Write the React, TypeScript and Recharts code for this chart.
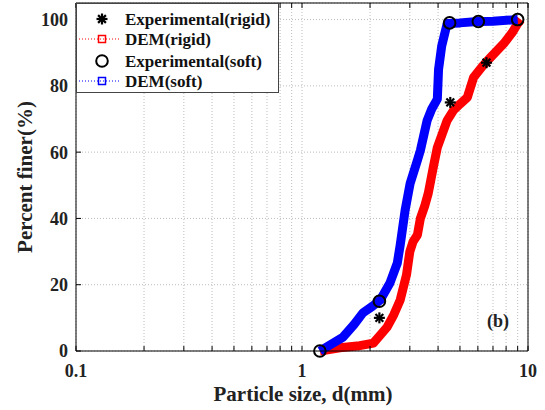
import {
  ComposedChart,
  Line,
  Scatter,
  XAxis,
  YAxis,
  CartesianGrid,
  Legend,
} from 'recharts'

// particle size (mm) / percent finer (%)
const demRigidSize = [1.2, 1.47, 1.8, 2.07, 2.2, 2.38, 2.55, 2.72, 2.9, 3.0, 3.1, 3.24, 3.34, 3.5, 3.62, 3.8, 3.97, 4.2, 4.39, 4.68, 5.0, 5.39, 5.74, 6.3, 6.83, 7.82, 8.5, 9.0, 9.3]
const demRigidFiner = [0, 1, 1.6, 2.4, 4.5, 7.2, 11, 15.4, 23, 30, 33, 35, 40, 44, 47.6, 55, 61.4, 66, 69.6, 72.6, 74.5, 76.5, 82.5, 86, 88.6, 92.8, 96, 98.8, 100]

const demSoftSize = [1.2, 1.52, 1.7, 1.86, 2.05, 2.22, 2.45, 2.64, 2.72, 2.86, 3.01, 3.24, 3.34, 3.58, 3.75, 3.97, 4.02, 4.15, 4.39, 5.0, 5.97, 7.0, 9.0]
const demSoftFiner = [0, 4.2, 8, 11.5, 13.5, 15.4, 20.5, 26.5, 32, 42.5, 50.6, 57.5, 60.5, 69.6, 73, 76, 85, 92, 98.8, 99, 99.4, 99.5, 100]

const expRigidSize = [2.2, 4.53, 6.55]
const expRigidFiner = [10, 75, 87]

const expSoftSize = [1.2, 2.2, 4.5, 6.03, 9.0]
const expSoftFiner = [0, 15, 99, 99.4, 100]

const xTicks = [0.1, 0.2, 0.3, 0.4, 0.5, 0.6, 0.7, 0.8, 0.9, 1, 2, 3, 4, 5, 6, 7, 8, 9, 10]
const xLabelled = [0.1, 1, 10]
const yTicks = [0, 20, 40, 60, 80, 100]

const toPoints = (xs: number[], ys: number[]) => xs.map((x, i) => ({ x, y: ys[i] }))

const FONT = "'Liberation Serif', 'Times New Roman', serif"
const tickStyle = { fontSize: 18, fontWeight: 700, fill: '#222', fontFamily: FONT }

function Asterisk({ cx, cy }: { cx?: number; cy?: number }) {
  if (cx == null || cy == null) return null
  const r = 5.5
  const d = r * 0.707
  return (
    <g stroke="#000" strokeWidth={2.2}>
      <line x1={cx - r} y1={cy} x2={cx + r} y2={cy} />
      <line x1={cx} y1={cy - r} x2={cx} y2={cy + r} />
      <line x1={cx - d} y1={cy - d} x2={cx + d} y2={cy + d} />
      <line x1={cx - d} y1={cy + d} x2={cx + d} y2={cy - d} />
    </g>
  )
}

function OpenCircle({ cx, cy }: { cx?: number; cy?: number }) {
  if (cx == null || cy == null) return null
  return <circle cx={cx} cy={cy} r={5.8} fill="none" stroke="#000" strokeWidth={2} />
}

function LegendBox() {
  const rows = ['Experimental(rigid)', 'DEM(rigid)', 'Experimental(soft)', 'DEM(soft)']
  const ys = [15, 35, 57, 77]
  return (
    <div style={{ width: 203, height: 90, border: '1px solid #444', background: '#fff', boxSizing: 'border-box' }}>
      <svg width={201} height={88} style={{ display: 'block' }}>
        <Asterisk cx={25} cy={ys[0]} />
        <line x1={2} y1={ys[1]} x2={42} y2={ys[1]} stroke="#ff0000" strokeWidth={1} strokeDasharray="1 2" />
        <rect x={21.5} y={ys[1] - 3.5} width={7} height={7} fill="none" stroke="#ff0000" strokeWidth={1.5} />
        <OpenCircle cx={25} cy={ys[2]} />
        <line x1={2} y1={ys[3]} x2={42} y2={ys[3]} stroke="#0000ff" strokeWidth={1} strokeDasharray="1 2" />
        <rect x={21.5} y={ys[3] - 3.5} width={7} height={7} fill="none" stroke="#0000ff" strokeWidth={1.5} />
        {rows.map((r, i) => (
          <text key={r} x={48} y={ys[i] + 6} fontSize={17} fontWeight={700} fontFamily={FONT} fill="#111">
            {r}
          </text>
        ))}
      </svg>
    </div>
  )
}

export default function App() {
  return (
    <div style={{ position: 'absolute', left: 0, top: 0, width: 545, height: 410, background: '#fff' }}>
      <ComposedChart width={545} height={410} margin={{ top: 2, right: 16, left: 0, bottom: 0 }}>
        <CartesianGrid stroke="#bdbdbd" strokeDasharray="1 2" />
        <XAxis
          dataKey="x"
          type="number"
          scale="log"
          domain={[0.1, 10]}
          ticks={xTicks}
          allowDataOverflow
          height={59}
          tickSize={-5}
          tickMargin={18}
          interval={0}
          stroke="#000"
          tick={tickStyle}
          tickFormatter={(v: number) => (xLabelled.includes(v) ? String(v) : '')}
          label={(p: any) => (
            <text x={303} y={401} textAnchor="middle" fontSize={21} fontWeight={700} fontFamily={FONT} fill="#222">
              Particle size, d(mm)
            </text>
          )}
        />
        <XAxis
          xAxisId="top"
          orientation="top"
          dataKey="x"
          type="number"
          scale="log"
          domain={[0.1, 10]}
          ticks={xTicks}
          allowDataOverflow
          height={1}
          tickSize={-5}
          interval={0}
          stroke="#000"
          tickFormatter={() => ''}
        />
        <YAxis
          type="number"
          domain={[0, 105]}
          ticks={yTicks}
          width={76}
          tickSize={-5}
          tickMargin={13}
          interval={0}
          stroke="#000"
          tick={tickStyle}
          label={(p: any) => (
            <text
              transform="translate(32,177) rotate(-90)"
              textAnchor="middle"
              fontSize={21}
              fontWeight={700}
              fontFamily={FONT}
              fill="#222"
            >
              Percent finer(%)
            </text>
          )}
        />
        <YAxis
          yAxisId="right"
          orientation="right"
          type="number"
          domain={[0, 105]}
          ticks={yTicks}
          width={1}
          tickSize={-5}
          interval={0}
          stroke="#000"
          tickFormatter={() => ''}
        />
        <Legend
          layout="horizontal"
          verticalAlign="middle"
          align="center"
          content={() => <LegendBox />}
          wrapperStyle={{ left: 76, top: 3, width: 203, height: 90 }}
        />
        <Line
          data={toPoints(demRigidSize, demRigidFiner)}
          dataKey="y"
          type="linear"
          stroke="#ff0000"
          strokeWidth={9}
          strokeLinejoin="round"
          dot={false}
          isAnimationActive={false}
          name="DEM(rigid)"
        />
        <Line
          data={toPoints(demSoftSize, demSoftFiner)}
          dataKey="y"
          type="linear"
          stroke="#0000ff"
          strokeWidth={9}
          strokeLinejoin="round"
          dot={false}
          isAnimationActive={false}
          name="DEM(soft)"
        />
        <Scatter
          data={toPoints(expRigidSize, expRigidFiner)}
          dataKey="y"
          shape={(p: any) => <Asterisk cx={p.cx} cy={p.cy} />}
          isAnimationActive={false}
          name="Experimental(rigid)"
        />
        <Scatter
          data={toPoints(expSoftSize, expSoftFiner)}
          dataKey="y"
          shape={(p: any) => <OpenCircle cx={p.cx} cy={p.cy} />}
          isAnimationActive={false}
          name="Experimental(soft)"
        />
      </ComposedChart>
      <div
        style={{
          position: 'absolute',
          left: 487,
          top: 311,
          fontFamily: FONT,
          fontWeight: 700,
          fontSize: 18,
          color: '#222',
          lineHeight: '20px',
        }}
      >
        (b)
      </div>
    </div>
  )
}
